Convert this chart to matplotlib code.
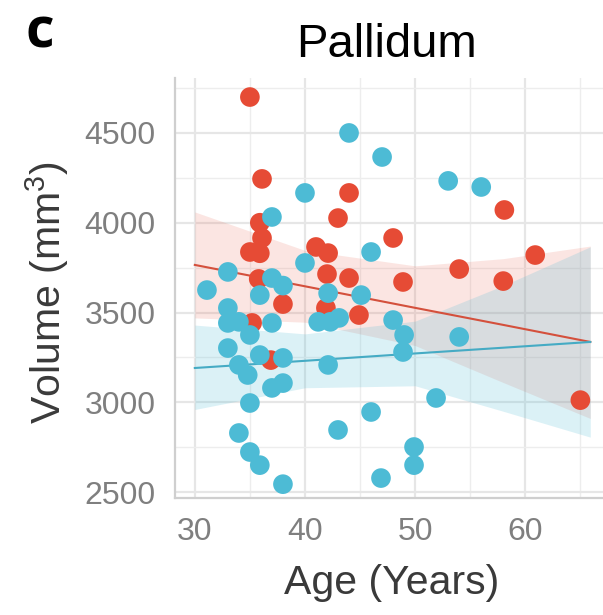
import numpy as np
import matplotlib
matplotlib.use("Agg")
import matplotlib.pyplot as plt
from matplotlib.ticker import MultipleLocator

plt.rcParams['font.family'] = ['Liberation Sans', 'DejaVu Sans']
plt.rcParams['mathtext.fontset'] = 'custom'
plt.rcParams['mathtext.rm'] = 'Liberation Sans'
plt.rcParams['mathtext.it'] = 'Liberation Sans:italic'

# Datos (edad, volumen)
edad_rojo = [35.0, 36.1, 35.9, 36.1, 35.0, 35.9, 35.8, 35.2, 36.9, 38.0,
             41.0, 42.1, 42.0, 44.0, 43.0, 44.0, 48.0, 48.9, 54.0, 58.1,
             58.0, 60.9, 65.0, 41.9, 44.9]
vol_rojo = [4700, 4244, 4000, 3915, 3837, 3830, 3687, 3442, 3235, 3547,
            3865, 3831, 3714, 3692, 4026, 4166, 3915, 3670, 3742, 4071,
            3675, 3820, 3012, 3525, 3486]

edad_azul = [44.0, 47.0, 40.0, 37.0, 46.0, 40.0, 33.0, 31.1, 37.0, 38.0,
             53.0, 56.0, 35.9, 33.0, 33.0, 34.0, 35.0, 37.0, 33.0, 35.9,
             38.0, 34.0, 34.8, 37.0, 38.0, 35.0, 34.0, 35.0, 35.9, 38.0,
             42.1, 45.1, 41.2, 42.3, 43.1, 42.1, 43.0, 46.0, 46.9, 48.0,
             49.0, 48.9, 54.0, 51.9, 49.9, 49.9]
vol_azul = [4500, 4366, 4166, 4032, 3837, 3776, 3726, 3625, 3692, 3650,
            4233, 4199, 3597, 3525, 3442, 3448, 3375, 3442, 3302, 3263,
            3247, 3208, 3152, 3080, 3107, 2996, 2829, 2723, 2650, 2544,
            3608, 3597, 3448, 3448, 3470, 3208, 2846, 2946, 2578, 3458,
            3375, 3280, 3364, 3024, 2751, 2650]

# Recta ajustada e intervalo de confianza
edad_ajuste = [30.0, 40.0, 50.0, 58.0, 65.9]
ajuste_rojo = [3765, 3646, 3526, 3431, 3336]
ic_rojo_inf = [3470, 3446, 3316, 3110, 2910]
ic_rojo_sup = [4060, 3846, 3760, 3800, 3870]
ajuste_azul = [3191, 3231, 3272, 3304, 3336]
ic_azul_inf = [2960, 3081, 3092, 2950, 2806]
ic_azul_sup = [3430, 3381, 3452, 3650, 3866]

color_rojo = "#E64B35"
color_azul = "#4DBBD5"

fig = plt.figure(figsize=(6.03, 6.15), dpi=100)
ax = fig.add_axes([175 / 603, 1 - 498 / 615, 434 / 603, 420 / 615])

ax.fill_between(edad_ajuste, ic_rojo_inf, ic_rojo_sup, color=color_rojo, alpha=0.14, lw=0, zorder=1)
ax.fill_between(edad_ajuste, ic_azul_inf, ic_azul_sup, color=color_azul, alpha=0.2, lw=0, zorder=1)
ax.plot(edad_ajuste, ajuste_rojo, color="#D4503C", lw=1.5, zorder=2)
ax.plot(edad_ajuste, ajuste_azul, color="#45ABC4", lw=1.5, zorder=2)

ax.scatter(edad_rojo, vol_rojo, s=200, color=color_rojo, edgecolors='none', zorder=3)
ax.scatter(edad_azul, vol_azul, s=200, color=color_azul, edgecolors='none', zorder=4)

ax.set_xlim(28.2, 67.6)
ax.set_ylim(2467, 4806)
ax.xaxis.set_major_locator(MultipleLocator(10))
ax.xaxis.set_minor_locator(MultipleLocator(5))
ax.yaxis.set_major_locator(MultipleLocator(500))
ax.yaxis.set_minor_locator(MultipleLocator(250))
ax.grid(which='major', color='#e6e6e6', lw=1.6, zorder=0)
ax.grid(which='minor', color='#ededed', lw=1.0, zorder=0)
ax.set_axisbelow(True)

for lado in ['top', 'right']:
    ax.spines[lado].set_visible(False)
for lado in ['left', 'bottom']:
    ax.spines[lado].set_color('#cfcfcf')
    ax.spines[lado].set_linewidth(1.6)

ax.tick_params(which='both', length=0)
ax.tick_params(axis='x', labelsize=23, labelcolor='#7f7f7f', pad=14)
ax.tick_params(axis='y', labelsize=23, labelcolor='#7f7f7f', pad=14)

ax.set_xlabel("Age (Years)", fontsize=29.5, color='#3a3a3a')
ax.xaxis.label.set_va('center')
ax.xaxis.set_label_coords(0.5, (498 - 583) / 420)
ax.set_ylabel("Volume (mm$^3$)", fontsize=29.5, color='#3a3a3a')
ax.yaxis.label.set_va('center')
ax.yaxis.set_label_coords((47 - 175) / 434, (498 - 293) / 420)

fig.text(387 / 603, 1 - 57 / 615, "Pallidum", fontsize=34, ha='center', va='baseline')
fig.text(25 / 603, 1 - 47 / 615, "c", fontsize=40, fontweight='bold', family='Open Sans',
         ha='left', va='baseline')

fig.savefig("out.png", dpi=100)
